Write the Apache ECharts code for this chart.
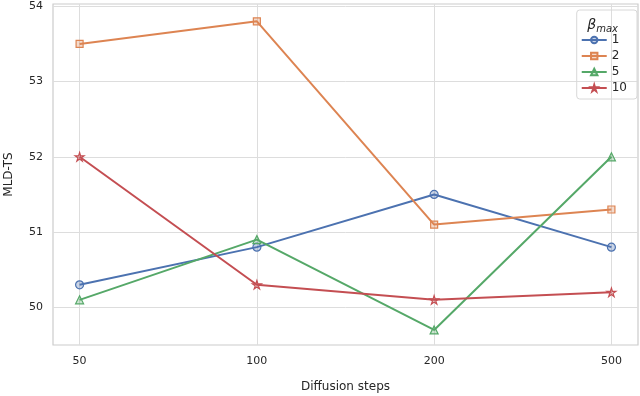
<!DOCTYPE html>
<html lang="en">
<head>
    <meta charset="UTF-8">
    <title>MLD-TS vs diffusion steps</title>
</head>
<body style="margin:0">
    <div id="main" style="width:640px;height:396px;"></div>
    <script src="https://cdn.jsdelivr.net/npm/echarts@6/dist/echarts.min.js"></script>
    <script>
        var steps = ['50', '100', '200', '500'];
        var stepPos = [0, 1, 2, 3];
        var yTicks = [50, 51, 52, 53, 54];
        var betaNames = ['1', '2', '5', '10'];
        var beta1 = [50.3, 50.8, 51.5, 50.8];
        var beta2 = [53.5, 53.8, 51.1, 51.3];
        var beta5 = [50.1, 50.9, 49.7, 52.0];
        var beta10 = [52.0, 50.3, 50.1, 50.2];

        var colors = ['#4c72b0', '#dd8452', '#55a868', '#c44e52'];
        var fills = ['rgba(76,114,176,0.3)', 'rgba(221,132,82,0.3)', 'rgba(85,168,104,0.3)', 'rgba(196,78,82,0.3)'];
        var star = 'path://M50,0 L61,35 L98,35 L68,57 L79,91 L50,70 L21,91 L32,57 L2,35 L39,35 Z';
        var symbols = ['circle', 'rect', 'triangle', star];
        var sizes = [8, 7, 8, 9];
        var allData = [beta1, beta2, beta5, beta10];

        var series = [];
        for (var i = 0; i < allData.length; i++) {
            series.push({
                name: betaNames[i],
                type: 'line',
                data: allData[i].map(function (v, k) { return [stepPos[k], v]; }),
                symbol: symbols[i],
                symbolSize: sizes[i],
                symbolKeepAspect: true,
                lineStyle: { color: colors[i], width: 2 },
                itemStyle: { color: fills[i], borderColor: colors[i], borderWidth: 1.2 },
                emphasis: { disabled: true }
            });
        }

        var font = 'DejaVu Sans';
        var myChart = echarts.init(document.getElementById('main'));
        var option = {
            animation: false,
            backgroundColor: '#ffffff',
            title: {
                text: '{b|β}{s|max}',
                right: 17,
                top: 12,
                textStyle: {
                    rich: {
                        b: { fontFamily: font, fontStyle: 'italic', fontWeight: 'normal', fontSize: 14, color: '#262626' },
                        s: { fontFamily: font, fontStyle: 'italic', fontWeight: 'normal', fontSize: 10, color: '#262626', padding: [7, 0, 0, 0] }
                    }
                }
            },
            legend: {
                orient: 'vertical',
                right: 3,
                top: 10,
                padding: [24, 10, 5, 4],
                borderColor: '#d8d8d8',
                borderWidth: 1,
                borderRadius: 3,
                itemWidth: 25,
                itemHeight: 8,
                itemGap: 4,
                data: betaNames,
                textStyle: { fontFamily: font, fontSize: 12, color: '#262626' }
            },
            grid: {
                left: 53,
                right: 2,
                top: 4,
                bottom: 51,
                outerBoundsMode: 'none',
                containLabel: false,
                show: true,
                borderColor: '#cccccc',
                borderWidth: 1.2
            },
            xAxis: {
                type: 'value',
                min: -0.15,
                max: 3.15,
                name: 'Diffusion steps',
                nameLocation: 'middle',
                nameGap: 36,
                nameTextStyle: { fontFamily: font, fontSize: 12, color: '#262626' },
                axisLine: { show: false },
                axisTick: { show: false, customValues: stepPos },
                axisLabel: {
                    customValues: stepPos,
                    fontFamily: font, fontSize: 11, color: '#262626', margin: 11,
                    formatter: function (v) { return steps[Math.round(v)]; }
                },
                splitLine: { lineStyle: { color: '#dddddd', width: 1 } }
            },
            yAxis: {
                type: 'value',
                min: 49.5,
                max: 54.03,
                name: 'MLD-TS',
                nameLocation: 'middle',
                nameGap: 38,
                nameTextStyle: { fontFamily: font, fontSize: 12, color: '#262626' },
                axisLine: { show: false },
                axisTick: { show: false, customValues: yTicks },
                axisLabel: {
                    customValues: yTicks,
                    fontFamily: font, fontSize: 11, color: '#262626', margin: 10
                },
                splitLine: { lineStyle: { color: '#dddddd', width: 1 } }
            },
            series: series
        };
        myChart.setOption(option);
    </script>
</body>
</html>
